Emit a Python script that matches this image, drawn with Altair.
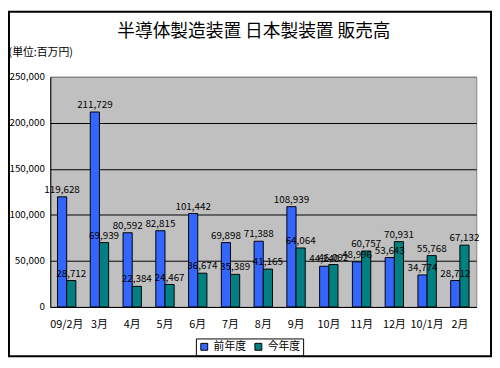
import altair as alt
import pandas as pd

months = ["09/2月", "3月", "4月", "5月", "6月", "7月", "8月", "9月", "10月", "11月", "12月", "10/1月", "2月"]
prev_year = [119628, 211729, 80592, 82815, 101442, 69898, 71388, 108939, 44240, 48996, 53643, 34774, 28712]
this_year = [28712, 69939, 22384, 24467, 36674, 35389, 41165, 64064, 46092, 60757, 70931, 55768, 67132]
series = ["前年度", "今年度"]
colors = ["#3366FF", "#008080"]
y_ticks = [0, 50000, 100000, 150000, 200000, 250000]
title_text = "半導体製造装置 日本製装置 販売高"
unit_text = "(単位:百万円)"

rows = []
for m, a, b in zip(months, prev_year, this_year):
    rows.append({"month": m, "series": series[0], "value": a})
    rows.append({"month": m, "series": series[1], "value": b})
df = pd.DataFrame(rows)

FONT = "Noto Sans CJK JP"

x = alt.X(
    "month:N", sort=months, title=None,
    scale=alt.Scale(paddingInner=0.44, paddingOuter=0.22),
    axis=alt.Axis(labelAngle=0, labelFontSize=11, labelColor="black", labelPadding=12,
                  ticks=False, domainColor="black", labelFont=FONT),
)
xo = alt.XOffset("series:N", sort=series, scale=alt.Scale(paddingInner=0, paddingOuter=0))
y = alt.Y(
    "value:Q", scale=alt.Scale(domain=[0, 250000]),
    axis=alt.Axis(values=y_ticks, format=",d", title=unit_text, titleAngle=0,
                  titleX=-43, titleY=-25, titleAlign="left", titleBaseline="middle",
                  titleFontSize=11, titleFontWeight="normal", titleFont=FONT, titleColor="black",
                  labelFontSize=10, labelFont=FONT, labelColor="black", labelPadding=6,
                  ticks=False, domainColor="black",
                  gridColor=alt.condition("datum.value === 250000", alt.value("#808080"), alt.value("black")),
                  gridOpacity=1, gridWidth=1),
)
color = alt.Color(
    "series:N", sort=series, scale=alt.Scale(domain=series, range=colors),
    legend=alt.Legend(orient="none", legendX=148, legendY=266, direction="horizontal", title=None,
                      symbolType="square", symbolSize=49, symbolStrokeColor="black",
                      symbolStrokeWidth=1, symbolOpacity=1, labelFontSize=11, labelFont=FONT,
                      labelColor="black", strokeColor="black", fillColor="white", padding=3,
                      columnPadding=7, labelOffset=4),
)

base = alt.Chart(df)
bars = base.mark_bar(stroke="black", strokeWidth=1, opacity=1).encode(x=x, xOffset=xo, y=y, color=color)
labels = base.mark_text(baseline="bottom", dy=-2, fontSize=10, font=FONT, color="black").encode(
    x=x, xOffset=xo, y=y, text=alt.Text("value:Q", format=",d")
)
one = pd.DataFrame({"k": [0]})
frame = alt.Chart(one).mark_rect(
    filled=False, stroke="black", strokeWidth=2
).encode(x=alt.value(-42), x2=alt.value(448), y=alt.value(-66), y2=alt.value(284))
title = alt.Chart(one).mark_text(
    text=title_text, fontSize=18, font=FONT, color="black", align="center", baseline="middle"
).encode(x=alt.value(207), y=alt.value(-45))

chart = alt.layer(bars, labels, frame, title).properties(
    width=433, height=234,
    autosize=alt.AutoSizeParams(type="none"),
    padding={"left": 43, "top": 67, "right": 16, "bottom": 51},
).configure_view(fill="#C0C0C0", stroke="#808080", strokeWidth=1)

chart.save("out.html", embed_options={"renderer": "svg", "actions": False})
